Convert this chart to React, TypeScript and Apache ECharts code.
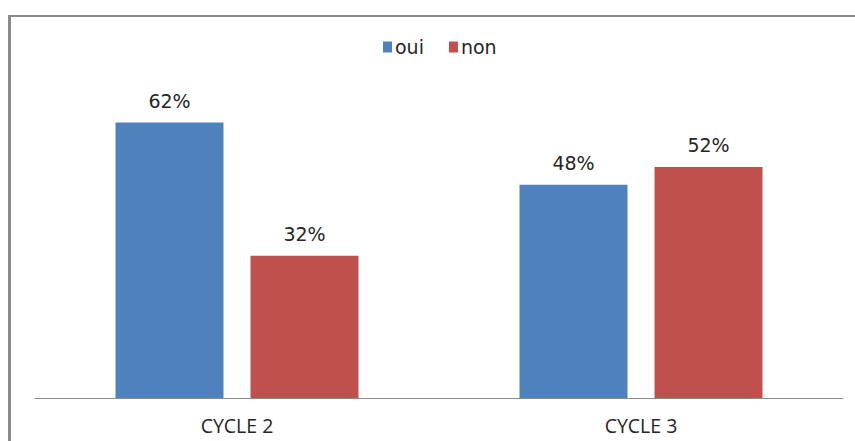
import React, { useEffect, useRef } from "react";
import * as echarts from "echarts";

const categories = ["CYCLE 2", "CYCLE 3"];
const seriesNames = ["oui", "non"];
const ouiValues = [62, 48];
const nonValues = [32, 52];

export default function App() {
  const ref = useRef<HTMLDivElement>(null);
  useEffect(() => {
    document.body.style.margin = "0";
    const chart = echarts.init(ref.current!, null, { renderer: "svg" });
    const labelStyle = {
      show: true,
      position: "top" as const,
      distance: 12.5,
      formatter: "{c}%",
      color: "#262626",
      fontFamily: "DejaVu Sans",
      fontSize: 19,
    };
    chart.setOption({
      animation: false,
      backgroundColor: "#ffffff",
      legend: {
        data: seriesNames,
        top: 32.5,
        left: 378,
        itemWidth: 9,
        itemHeight: 11,
        itemGap: 25,
        icon: "rect",
        textStyle: {
          fontFamily: "DejaVu Sans",
          fontSize: 19,
          color: "#262626",
          padding: [0, 0, 0, -2],
        },
      },
      grid: { left: 35, right: 12, top: 87, bottom: 43 },
      xAxis: {
        type: "category",
        data: categories,
        axisLine: { show: true, lineStyle: { color: "#8c8c8c", width: 1 } },
        axisTick: { show: false },
        axisLabel: {
          margin: 17,
          color: "#262626",
          fontFamily: "Open Sans",
          fontSize: 19.5,
        },
      },
      yAxis: {
        type: "value",
        min: 0,
        max: 70,
        show: false,
        splitLine: { show: false },
      },
      series: [
        {
          name: "oui",
          type: "bar",
          data: ouiValues,
          barWidth: 108,
          barGap: "25%",
          itemStyle: { color: "#4F81BD" },
          label: labelStyle,
        },
        {
          name: "non",
          type: "bar",
          data: nonValues,
          barWidth: 108,
          barGap: "25%",
          itemStyle: { color: "#C0504D" },
          label: labelStyle,
        },
      ],
      graphic: [
        {
          type: "line",
          shape: { x1: 8, y1: 16, x2: 860, y2: 16 },
          style: { stroke: "#8a8a8a", lineWidth: 2 },
          silent: true,
        },
        {
          type: "line",
          shape: { x1: 9.5, y1: 15, x2: 9.5, y2: 450 },
          style: { stroke: "#8a8a8a", lineWidth: 3 },
          silent: true,
        },
      ],
    });
    return () => chart.dispose();
  }, []);
  return <div ref={ref} style={{ width: 855, height: 441 }} />;
}
